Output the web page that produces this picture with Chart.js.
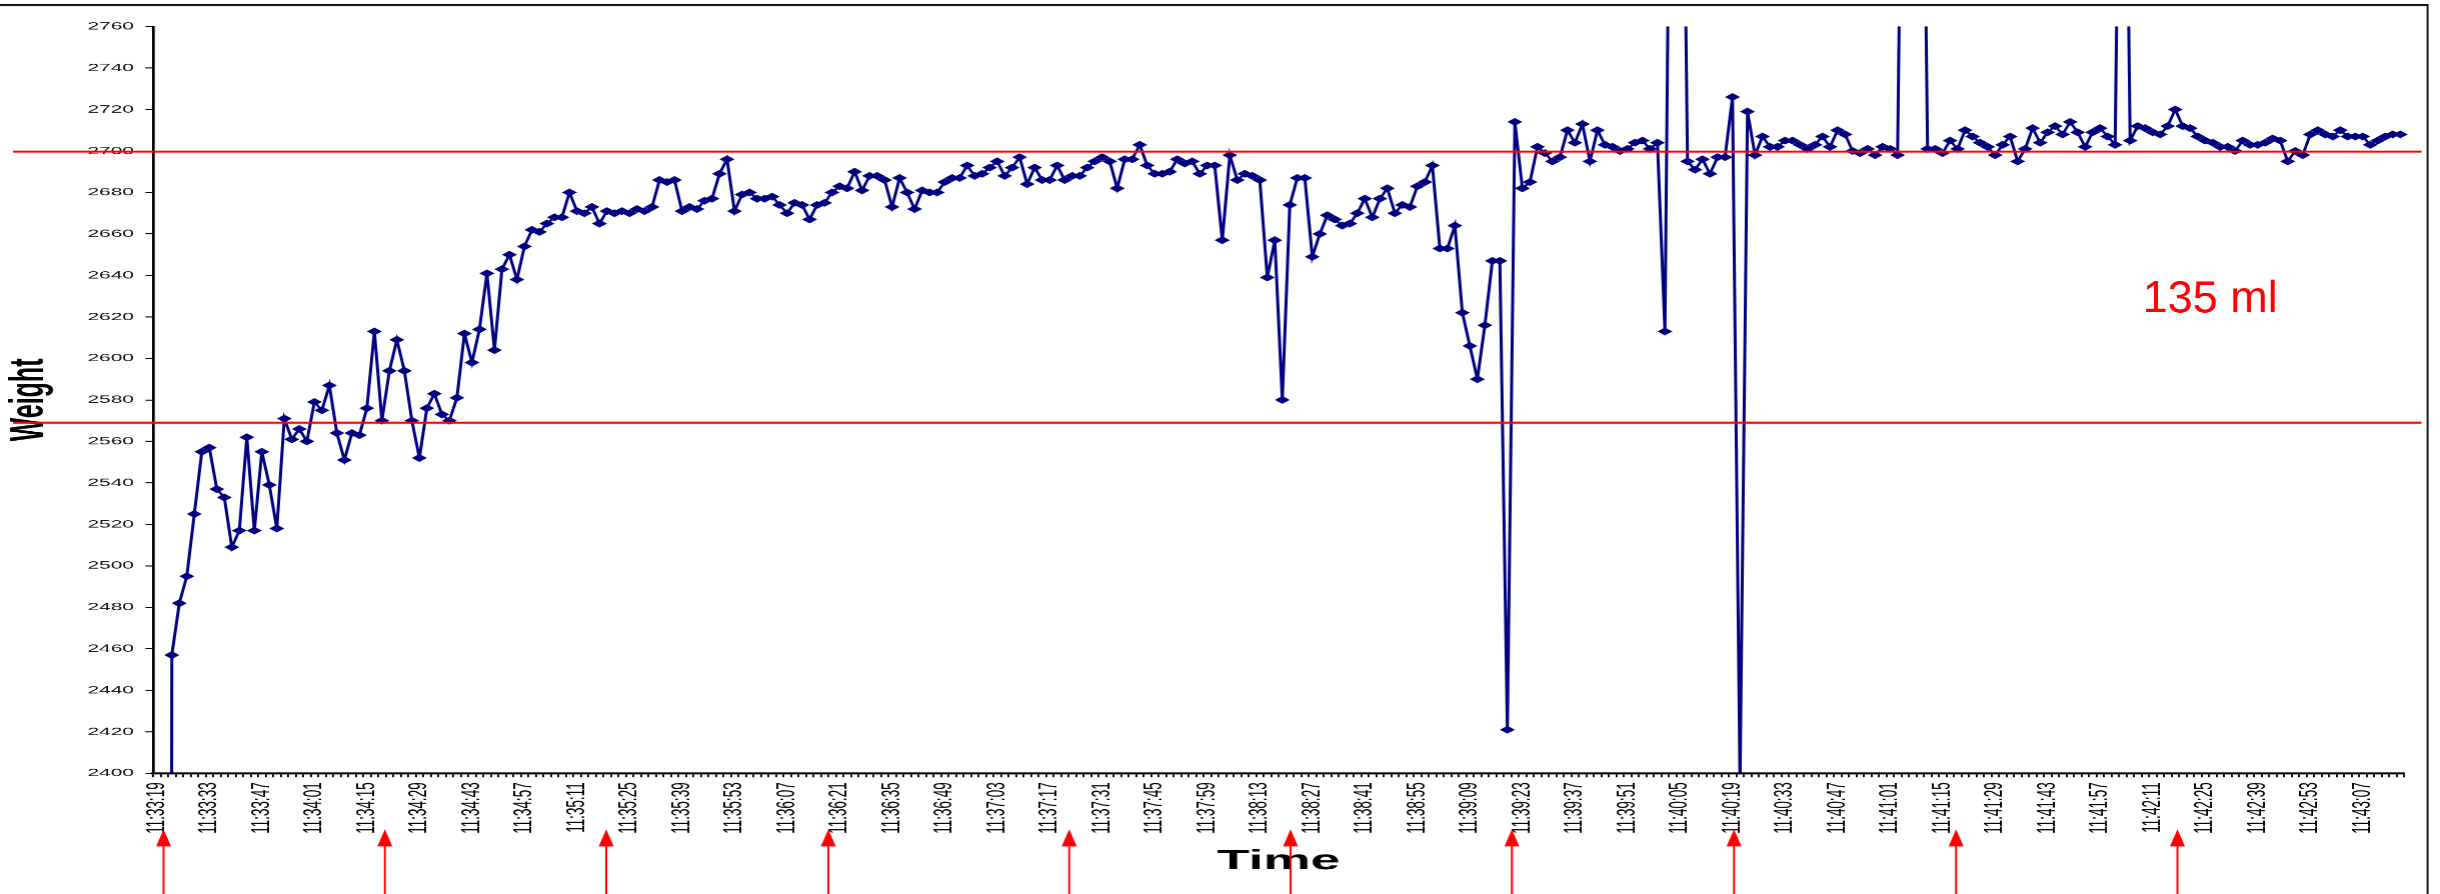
<!DOCTYPE html>
<html>
<head>
<meta charset="utf-8">
<script src="https://cdn.jsdelivr.net/npm/chart.js@4.4.1/dist/chart.umd.min.js"></script>
<style>
  html, body { margin: 0; padding: 0; background: #fff; overflow: hidden; }
</style>
</head>
<body>
<!-- drawn at a narrow width, then stretched sideways like the original picture -->
<canvas id="chart" width="1284" height="894" style="width:2440px;height:894px;display:block"></canvas>
<script>
// ===== DATA =====
const tickLabels = [
  '11:33:19', '11:33:33', '11:33:47', '11:34:01', '11:34:15', '11:34:29', '11:34:43', '11:34:57',
  '11:35:11', '11:35:25', '11:35:39', '11:35:53', '11:36:07', '11:36:21', '11:36:35', '11:36:49',
  '11:37:03', '11:37:17', '11:37:31', '11:37:45', '11:37:59', '11:38:13', '11:38:27', '11:38:41',
  '11:38:55', '11:39:09', '11:39:23', '11:39:37', '11:39:51', '11:40:05', '11:40:19', '11:40:33',
  '11:40:47', '11:41:01', '11:41:15', '11:41:29', '11:41:43', '11:41:57', '11:42:11', '11:42:25',
  '11:42:39', '11:42:53', '11:43:07'
];
const labelEvery = 7; // one reading every 2 s, one label every 14 s

const weight = [
  0, 0, 2457, 2482, 2495, 2525, 2555, 2557, 2537, 2533,
  2509, 2517, 2562, 2517, 2555, 2539, 2518, 2571, 2561, 2566,
  2560, 2579, 2575, 2587, 2564, 2551, 2564, 2563, 2576, 2613,
  2570, 2594, 2609, 2594, 2570, 2552, 2576, 2583, 2573, 2570,
  2581, 2612, 2598, 2614, 2641, 2604, 2643, 2650, 2638, 2654,
  2662, 2661, 2665, 2668, 2668, 2680, 2671, 2670, 2673, 2665,
  2671, 2670, 2671, 2670, 2672, 2671, 2673, 2686, 2685, 2686,
  2671, 2673, 2672, 2676, 2677, 2689, 2696, 2671, 2679, 2680,
  2677, 2677, 2678, 2674, 2670, 2675, 2674, 2667, 2674, 2675,
  2680, 2683, 2682, 2690, 2681, 2688, 2688, 2686, 2673, 2687,
  2680, 2672, 2681, 2680, 2680, 2685, 2687, 2687, 2693, 2688,
  2689, 2692, 2695, 2688, 2692, 2697, 2684, 2692, 2686, 2686,
  2693, 2686, 2688, 2688, 2692, 2695, 2697, 2695, 2682, 2696,
  2696, 2703, 2693, 2689, 2689, 2690, 2696, 2694, 2695, 2689,
  2693, 2693, 2657, 2698, 2686, 2689, 2688, 2686, 2639, 2657,
  2580, 2674, 2687, 2687, 2649, 2660, 2669, 2667, 2664, 2665,
  2670, 2677, 2668, 2677, 2682, 2670, 2674, 2673, 2683, 2685,
  2693, 2653, 2653, 2664, 2622, 2606, 2590, 2616, 2647, 2647,
  2421, 2714, 2682, 2685, 2702, 2699, 2695, 2697, 2710, 2704,
  2713, 2695, 2710, 2703, 2702, 2700, 2701, 2704, 2705, 2701,
  2704, 2613, 3000, 3000, 2695, 2691, 2696, 2689, 2697, 2697,
  2726, 2395, 2719, 2698, 2707, 2702, 2702, 2705, 2705, 2703,
  2701, 2703, 2707, 2702, 2710, 2708, 2700, 2699, 2701, 2698,
  2702, 2701, 2698, 3000, 3000, 3000, 2701, 2701, 2699, 2705,
  2701, 2710, 2707, 2704, 2702, 2698, 2703, 2707, 2695, 2701,
  2711, 2704, 2709, 2712, 2708, 2714, 2709, 2702, 2709, 2711,
  2707, 2703, 3000, 2705, 2712, 2711, 2709, 2708, 2712, 2720,
  2712, 2711, 2707, 2705, 2704, 2702, 2702, 2700, 2705, 2703,
  2703, 2704, 2706, 2705, 2695, 2700, 2698, 2708, 2710, 2708,
  2707, 2710, 2707, 2707, 2707, 2703, 2705, 2707, 2708, 2708
];

const yMin = 2400;
const yMax = 2760;
const yStep = 20;

// red marks drawn over the chart
const refLines = [2700, 2569.5];
const arrowAt = [0.9, 30.4, 59.9, 89.5, 121.6, 151.1, 180.6, 210.2, 239.8, 269.3];
const noteText = '135 ml';

// ===== LAYOUT =====
const canvas = document.getElementById('chart');
const STRETCH = 2440 / canvas.width;
const fontFamily = '"Liberation Sans", Arial, Helvetica, sans-serif';
const navy = '#000080';
const red = '#ff0000';

const labels = weight.map((_, i) => (i % labelEvery === 0 ? tickLabels[i / labelEvery] : ''));

// things in real screen pixels, drawn after the chart
const overlayPlugin = {
  id: 'overlay',
  afterDraw(chart) {
    const ctx = chart.ctx;
    const x = chart.scales.x;
    const y = chart.scales.y;
    ctx.save();
    ctx.scale(1 / STRETCH, 1);

    // horizontal red lines
    ctx.strokeStyle = red;
    ctx.lineWidth = 2;
    refLines.forEach(v => {
      const py = Math.round(y.getPixelForValue(v)) + 0.5;
      ctx.beginPath();
      ctx.moveTo(13, py);
      ctx.lineTo(2421, py);
      ctx.stroke();
    });

    // red arrows under the time axis
    ctx.fillStyle = red;
    arrowAt.forEach(idx => {
      const px = x.getPixelForValue(idx) * STRETCH;
      ctx.beginPath();
      ctx.moveTo(px, 829);
      ctx.lineTo(px - 7.5, 846);
      ctx.lineTo(px + 7.5, 846);
      ctx.closePath();
      ctx.fill();
      ctx.fillRect(px - 1, 845, 2, 50);
    });

    // note
    ctx.font = '45px ' + fontFamily;
    ctx.textBaseline = 'alphabetic';
    ctx.textAlign = 'left';
    ctx.fillText(noteText, 2142, 312);

    // outer chart frame (top and right edges show)
    ctx.strokeStyle = '#1a1a1a';
    ctx.lineWidth = 2;
    ctx.beginPath();
    ctx.moveTo(0, 5);
    ctx.lineTo(2427, 5);
    ctx.lineTo(2427, 894);
    ctx.stroke();
    ctx.restore();
  }
};

new Chart(canvas, {
  type: 'line',
  data: {
    labels: labels,
    datasets: [{
      label: 'Weight',
      data: weight,
      borderColor: navy,
      backgroundColor: navy,
      borderWidth: 1.6,
      tension: 0,
      pointStyle: 'rectRot',
      pointRadius: 3.4,
      pointBorderWidth: 0.8,
      pointBackgroundColor: navy,
      pointBorderColor: navy
    }]
  },
  options: {
    responsive: false,
    animation: false,
    devicePixelRatio: 1.9,
    layout: { padding: { top: 26.5, right: canvas.width - 2407 / STRETCH, bottom: 0, left: 0 } },
    plugins: {
      legend: { display: false },
      tooltip: { enabled: false }
    },
    scales: {
      x: {
        type: 'category',
        offset: true,
        afterFit(scale) { scale.height = 894 - 773; },
        border: { display: true, color: '#000', width: 2 },
        grid: { display: true, drawOnChartArea: false, drawTicks: true, tickLength: 4, offset: true, color: '#000', lineWidth: 1 },
        ticks: {
          autoSkip: false,
          minRotation: 90,
          maxRotation: 90,
          padding: 5,
          color: '#000',
          font: { family: fontFamily, size: 13.5 },
          callback: (value, index) => labels[index]
        },
        title: {
          display: true,
          text: 'Time',
          color: '#000',
          font: { family: fontFamily, size: 28, weight: 'bold' },
          padding: { top: 0, bottom: 16 }
        }
      },
      y: {
        min: yMin,
        max: yMax,
        afterFit(scale) { scale.width = 153 / STRETCH; },
        border: { display: true, color: '#000', width: 1.4 },
        grid: { display: true, drawOnChartArea: false, drawTicks: true, tickLength: 4, color: '#000', lineWidth: 1 },
        ticks: {
          stepSize: yStep,
          padding: 6,
          color: '#111',
          font: { family: fontFamily, size: 11 },
          callback: value => String(value)
        },
        title: {
          display: true,
          text: 'Weight',
          color: '#000',
          font: { family: fontFamily, size: 25, weight: 'bold' },
          padding: { top: 1, bottom: 0 }
        }
      }
    }
  },
  plugins: [overlayPlugin]
});
</script>
</body>
</html>
